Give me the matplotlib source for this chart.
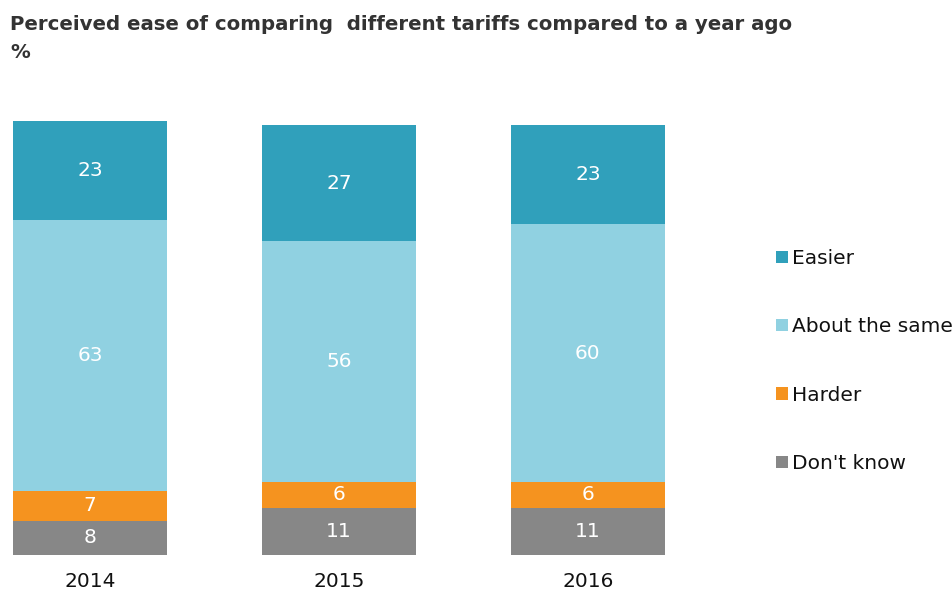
import matplotlib
matplotlib.use('Agg')
import matplotlib.pyplot as plt
import numpy as np
from matplotlib.patches import Patch

plt.rcParams['font.family'] = ['DejaVu Sans']

# Data
years = ['2014', '2015', '2016']
dont_know = [8, 11, 11]
harder = [7, 6, 6]
about_same = [63, 56, 60]
easier = [23, 27, 23]

series = [
    ("Don't know", dont_know, '#878787'),
    ('Harder', harder, '#f5931f'),
    ('About the same', about_same, '#90d1e1'),
    ('Easier', easier, '#30a0bb'),
]

W, H = 953, 593
fig = plt.figure(figsize=(W / 100, H / 100), dpi=100)
ax = fig.add_axes([13 / W, (H - 555) / H, 652 / W, 434 / H])

x = np.arange(len(years))
bottom = np.zeros(len(years))
handles = []
for name, vals, color in series:
    vals = np.array(vals, dtype=float)
    ax.bar(x, vals, width=0.62, bottom=bottom, color=color, linewidth=0)
    for xi, b, v in zip(x, bottom, vals):
        ax.text(xi, b + v / 2, str(int(v)), ha='center', va='center',
                color='white', fontsize=14.5)
    bottom += vals
    handles.append(Patch(facecolor=color, label=name))

ax.set_xlim(-0.31, 2.31)
ax.set_ylim(0, 101)
for s in ax.spines.values():
    s.set_visible(False)
ax.set_yticks([])
ax.set_xticks(x)
ax.set_xticklabels(years, fontsize=14.5, color='#111111')
ax.tick_params(axis='x', length=0, pad=12)

leg = fig.legend(handles[::-1], [h.get_label() for h in handles[::-1]],
                 loc='center left', bbox_to_anchor=(776 / W, 1 - 361 / H),
                 frameon=False, fontsize=14.5, labelspacing=2.45,
                 handlelength=0.58, handleheight=0.58, handletextpad=0.2,
                 borderpad=0, borderaxespad=0)
for t in leg.get_texts():
    t.set_color('#111111')

fig.text(10 / W, 1 - 25 / H, 'Perceived ease of comparing  different tariffs compared to a year ago',
         fontsize=14.2, fontweight='bold', color='#333333', va='center', ha='left',
         family=['DejaVu Sans Condensed', 'DejaVu Sans'])
fig.text(10 / W, 1 - 53 / H, '%', fontsize=14.2, fontweight='bold', color='#333333',
         va='center', ha='left', family=['DejaVu Sans Condensed', 'DejaVu Sans'])

fig.savefig('out.png', dpi=100)
